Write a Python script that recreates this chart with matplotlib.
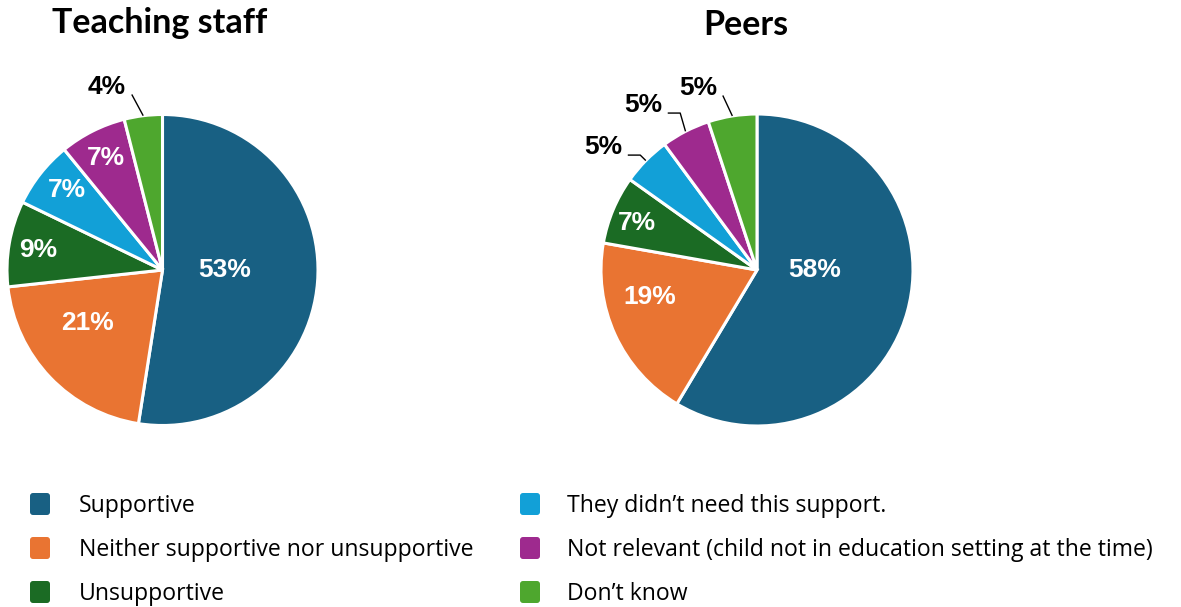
import matplotlib
matplotlib.use("Agg")
import matplotlib.pyplot as plt
import numpy as np
from matplotlib.patches import FancyBboxPatch

# Response categories and shares (%)
categories = [
    "Supportive",
    "Neither supportive nor unsupportive",
    "Unsupportive",
    "They didn\u2019t need this support.",
    "Not relevant (child not in education setting at the time)",
    "Don\u2019t know",
]
teaching_staff = [53, 21, 9, 7, 7, 4]
peers = [58, 19, 7, 5, 5, 5]
titles = ["Teaching staff", "Peers"]
colors = ["#186083", "#E97432", "#1B6B24", "#12A0D7", "#9E2A8E", "#4EA72E"]

W, H = 1181, 607
fig = plt.figure(figsize=(W / 100, H / 100), dpi=100)

LABEL_FONT = dict(family=["Liberation Sans", "DejaVu Sans"], weight="bold", size=19)
TITLE_FONT = ["Lato", "DejaVu Sans"]
LEGEND_FONT = ["Open Sans", "DejaVu Sans"]


def add_pie_axes(cx, cy, R, lim=1.3):
    size = 2 * lim * R
    ax = fig.add_axes([(cx - size / 2) / W, 1 - (cy + size / 2) / H, size / W, size / H])
    ax.axis("off")
    return ax, lim


def draw_pie(ax, lim, values, label_r, label_dtheta, outside):
    wedges, _ = ax.pie(values, colors=colors, startangle=90, counterclock=False,
                       radius=1, wedgeprops=dict(edgecolor="white", linewidth=2.2))
    ax.set_xlim(-lim, lim)
    ax.set_ylim(-lim, lim)
    ax.set_aspect("equal")
    for i, (w, v) in enumerate(zip(wedges, values)):
        mid_deg = (w.theta1 + w.theta2) / 2
        mid = np.deg2rad(mid_deg)
        if i in outside:
            # leader line: from the wedge rim to an elbow, optionally a short horizontal run
            r_elbow, d_ang, h_len = outside[i]
            el = np.deg2rad(mid_deg + d_ang)
            x0, y0 = np.cos(mid), np.sin(mid)
            x1, y1 = r_elbow * np.cos(el), r_elbow * np.sin(el)
            xs, ys = [x0, x1], [y0, y1]
            if h_len:
                xs.append(x1 - h_len)
                ys.append(y1)
            ax.plot(xs, ys, color="black", lw=1.0, clip_on=False, solid_capstyle="butt")
            ax.annotate(f"{v}%", xy=(xs[-1], ys[-1]), xytext=(-4, 5.5),
                        textcoords="offset points", ha="right", va="center",
                        color="black", **LABEL_FONT)
        else:
            ang = mid + np.deg2rad(label_dtheta[i])
            r = label_r[i]
            ax.text(r * np.cos(ang), r * np.sin(ang), f"{v}%", ha="center", va="center",
                    color="white", **LABEL_FONT)


ax1, lim1 = add_pie_axes(162.5, 270, 155.5)
draw_pie(ax1, lim1, teaching_staff,
         label_r=[0.40, 0.59, 0.81, 0.80, 0.81, 0],
         label_dtheta=[4.5, -8, 0.8, -1.6, 0, 0],
         outside={5: (1.146, 2.8, 0)})

ax2, lim2 = add_pie_axes(757, 270, 156)
draw_pie(ax2, lim2, peers,
         label_r=[0.37, 0.71, 0.83, 0, 0, 0],
         label_dtheta=[15.4, -10.3, 1.3, 0, 0, 0],
         outside={3: (1.05, 0, 0.08), 4: (1.12, -1.2, 0.08), 5: (1.14, 2.0, 0)})

# Overlay in pixel coordinates for titles and legend
ov = fig.add_axes([0, 0, 1, 1])
ov.set_xlim(0, W)
ov.set_ylim(H, 0)
ov.axis("off")
ov.patch.set_alpha(0)

ov.text(160, 23, titles[0], ha="center", va="center", fontsize=24.5,
        fontweight="bold", family=TITLE_FONT)
ov.text(746, 25, titles[1], ha="center", va="center", fontsize=24.5,
        fontweight="bold", family=TITLE_FONT)

rows = [504, 548, 592]
cols = [(30, 79), (520, 567)]
for i, (lab, c) in enumerate(zip(categories, colors)):
    mx, tx = cols[i // 3]
    y = rows[i % 3]
    ov.add_patch(FancyBboxPatch((mx + 2, y - 9), 16, 18,
                                boxstyle="round,pad=2,rounding_size=3",
                                facecolor=c, edgecolor="none"))
    ov.text(tx, y + 2, lab, ha="left", va="center", fontsize=16.6, family=LEGEND_FONT,
            color="black")

fig.savefig("out.png", dpi=100)
